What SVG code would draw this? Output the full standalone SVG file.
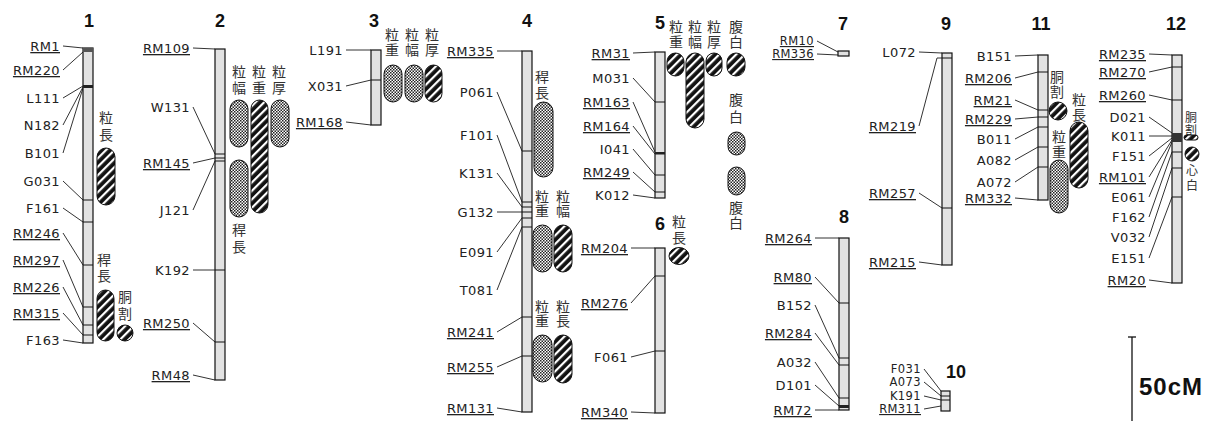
<svg xmlns="http://www.w3.org/2000/svg" width="1209" height="422" viewBox="0 0 1209 422">
<style>
.bar{fill:#e2e2e2;stroke:#111;stroke-width:1.2}
.m{stroke:#111;stroke-width:1}
.l{font-family:"DejaVu Sans",sans-serif;font-size:13px;fill:#222;text-anchor:end;letter-spacing:0.4px}
.s{font-size:11.5px}
.u{text-decoration:underline}
.n{font-family:"Liberation Sans",Arial,sans-serif;font-weight:bold;font-size:18px;text-anchor:middle;fill:#111}
.j{font-family:"Noto Sans CJK JP",sans-serif;font-size:14px;fill:#333;writing-mode:vertical-rl;dominant-baseline:central;text-anchor:start}
.js{font-size:12px}
.h{fill:url(#hatch);stroke:#111;stroke-width:1}
.d{fill:url(#dots);stroke:#111;stroke-width:1}
#connectors line,#connectors polyline{stroke:#333;stroke-width:1;fill:none}
</style>
<defs>
<pattern id="hatch" width="6" height="6" patternUnits="userSpaceOnUse" patternTransform="rotate(-45)">
<rect width="6" height="6" fill="#111"/><rect width="6" height="2.2" fill="#fff"/>
</pattern>
<pattern id="dots" width="3" height="3" patternUnits="userSpaceOnUse">
<rect width="3" height="3" fill="#fff"/><rect width="1.5" height="1.5" fill="#222"/><rect x="1.5" y="1.5" width="1.5" height="1.5" fill="#222"/>
</pattern>
</defs>
<rect width="1209" height="422" fill="#fff"/>

<g id="connectors">
<line x1="63" y1="46" x2="83" y2="48"/><line x1="63" y1="70" x2="83" y2="52"/><line x1="63" y1="98" x2="83" y2="86"/><line x1="63" y1="125" x2="83" y2="87"/><line x1="63" y1="153" x2="83" y2="88"/><line x1="63" y1="181" x2="83" y2="200"/><line x1="63" y1="208" x2="83" y2="222"/><line x1="63" y1="233" x2="83" y2="265"/><line x1="63" y1="260" x2="83" y2="307"/><line x1="63" y1="287" x2="83" y2="325"/><line x1="63" y1="313" x2="83" y2="335"/><line x1="63" y1="340" x2="83" y2="343"/>
<line x1="193" y1="48" x2="215" y2="49"/><line x1="193" y1="107" x2="215" y2="154"/><line x1="193" y1="163" x2="215" y2="158"/><line x1="193" y1="210" x2="215" y2="161"/><line x1="193" y1="270" x2="215" y2="270"/><line x1="193" y1="323" x2="215" y2="342"/><line x1="193" y1="375" x2="215" y2="380"/>
<line x1="346" y1="50" x2="371" y2="50"/><line x1="346" y1="86" x2="371" y2="80"/><line x1="346" y1="122" x2="371" y2="125"/>
<line x1="497" y1="51" x2="522" y2="51"/><line x1="497" y1="92" x2="522" y2="151"/><line x1="497" y1="135" x2="522" y2="202"/><line x1="497" y1="173" x2="522" y2="207"/><line x1="497" y1="212" x2="522" y2="212"/><line x1="497" y1="252" x2="522" y2="218"/><line x1="497" y1="290" x2="522" y2="227"/><line x1="497" y1="332" x2="522" y2="317"/><line x1="497" y1="367" x2="522" y2="356"/><line x1="497" y1="408" x2="522" y2="412"/>
<line x1="633" y1="53" x2="655" y2="52"/><line x1="633" y1="78" x2="655" y2="102"/><line x1="633" y1="102" x2="655" y2="152"/><line x1="633" y1="126" x2="655" y2="154"/><line x1="633" y1="149" x2="655" y2="175"/><line x1="633" y1="172" x2="655" y2="192"/><line x1="633" y1="195" x2="655" y2="198"/>
<line x1="631" y1="248" x2="655" y2="248"/><line x1="631" y1="303" x2="655" y2="276"/><line x1="631" y1="357" x2="655" y2="351"/><line x1="631" y1="412" x2="655" y2="413"/>
<line x1="817" y1="41" x2="838" y2="52"/><line x1="817" y1="54" x2="838" y2="55"/>
<line x1="815" y1="238" x2="839" y2="238"/><line x1="815" y1="277" x2="839" y2="303"/><line x1="815" y1="305" x2="839" y2="358"/><line x1="815" y1="333" x2="839" y2="365"/><line x1="815" y1="362" x2="839" y2="398"/><line x1="815" y1="385" x2="839" y2="406"/><line x1="815" y1="410" x2="839" y2="410"/>
<line x1="919" y1="52" x2="942" y2="53"/><polyline points="919,126 937,58 942,58"/><line x1="919" y1="193" x2="942" y2="208"/><line x1="919" y1="262" x2="942" y2="265"/>
<line x1="924" y1="369" x2="941" y2="391"/><line x1="924" y1="382" x2="941" y2="396"/><line x1="924" y1="396" x2="941" y2="400"/><line x1="924" y1="409" x2="941" y2="406"/>
<line x1="1015" y1="56" x2="1038" y2="55"/><line x1="1015" y1="78" x2="1038" y2="72"/><line x1="1015" y1="100" x2="1038" y2="110"/><line x1="1015" y1="119" x2="1038" y2="117"/><line x1="1015" y1="139" x2="1038" y2="127"/><line x1="1015" y1="160" x2="1038" y2="147"/><line x1="1015" y1="182" x2="1038" y2="167"/><line x1="1015" y1="198" x2="1038" y2="200"/>
<line x1="1149" y1="54" x2="1172" y2="55"/><line x1="1149" y1="72" x2="1172" y2="67"/><line x1="1149" y1="95" x2="1172" y2="100"/><line x1="1149" y1="117" x2="1172" y2="133"/><line x1="1149" y1="136" x2="1172" y2="136"/><line x1="1149" y1="156" x2="1172" y2="138"/><line x1="1149" y1="177" x2="1172" y2="140"/><line x1="1149" y1="197" x2="1172" y2="142"/><line x1="1149" y1="217" x2="1172" y2="152"/><line x1="1149" y1="237" x2="1172" y2="168"/><line x1="1149" y1="258" x2="1172" y2="197"/><line x1="1149" y1="280" x2="1172" y2="283"/>
</g>

<g id="chr1">
<text class="n" x="89" y="27">1</text>
<rect class="bar" x="83" y="48" width="10" height="295"/>
<rect x="83" y="48" width="10" height="4" fill="#555"/><rect x="83" y="85" width="10" height="3" fill="#222"/>
<line class="m" x1="83" x2="93" y1="200" y2="200"/><line class="m" x1="83" x2="93" y1="222" y2="222"/><line class="m" x1="83" x2="93" y1="265" y2="265"/><line class="m" x1="83" x2="93" y1="307" y2="307"/><line class="m" x1="83" x2="93" y1="325" y2="325"/><line class="m" x1="83" x2="93" y1="335" y2="335"/>
<text class="l u" x="60" y="51">RM1</text><text class="l u" x="60" y="75">RM220</text><text class="l" x="60" y="103">L111</text><text class="l" x="60" y="130">N182</text><text class="l" x="60" y="158">B101</text><text class="l" x="60" y="186">G031</text><text class="l" x="60" y="213">F161</text><text class="l u" x="60" y="238">RM246</text><text class="l u" x="60" y="265">RM297</text><text class="l u" x="60" y="292">RM226</text><text class="l u" x="60" y="318">RM315</text><text class="l" x="60" y="345">F163</text>
<text class="j" x="106" y="111" letter-spacing="3">粒長</text>
<rect class="h" x="97" y="148" width="18" height="57" rx="9"/>
<text class="j" x="104" y="253" letter-spacing="2">稈長</text>
<rect class="h" x="97" y="290" width="17" height="51" rx="8.5"/>
<text class="j" x="125" y="290" letter-spacing="3">胴割</text>
<circle class="h" cx="125" cy="333" r="8"/>
</g>

<g id="chr2">
<text class="n" x="220" y="27">2</text>
<rect class="bar" x="215" y="49" width="10" height="331"/>
<line class="m" x1="215" x2="225" y1="154" y2="154"/><line class="m" x1="215" x2="225" y1="158" y2="158"/><line class="m" x1="215" x2="225" y1="161" y2="161"/><line class="m" x1="215" x2="225" y1="270" y2="270"/><line class="m" x1="215" x2="225" y1="342" y2="342"/>
<text class="l u" x="190" y="53">RM109</text><text class="l" x="190" y="112">W131</text><text class="l u" x="190" y="168">RM145</text><text class="l" x="190" y="215">J121</text><text class="l" x="190" y="275">K192</text><text class="l u" x="190" y="328">RM250</text><text class="l u" x="190" y="380">RM48</text>
<text class="j" x="239" y="65" letter-spacing="2">粒幅</text>
<text class="j" x="259" y="65" letter-spacing="2">粒重</text>
<text class="j" x="279" y="65" letter-spacing="2">粒厚</text>
<rect class="d" x="230" y="100" width="18" height="47" rx="9"/>
<rect class="h" x="251" y="100" width="17" height="113" rx="8.5"/>
<rect class="d" x="271" y="100" width="18" height="47" rx="9"/>
<rect class="d" x="230" y="160" width="18" height="57" rx="9"/>
<text class="j" x="239" y="223" letter-spacing="3">稈長</text>
</g>

<g id="chr3">
<text class="n" x="374" y="27">3</text>
<rect class="bar" x="371" y="50" width="10" height="75"/>
<line class="m" x1="371" x2="381" y1="80" y2="80"/>
<text class="l" x="343" y="55">L191</text><text class="l" x="343" y="91">X031</text><text class="l u" x="343" y="127">RM168</text>
<text class="j" x="392" y="28" letter-spacing="1">粒重</text>
<text class="j" x="412" y="28" letter-spacing="1">粒幅</text>
<text class="j" x="432" y="28" letter-spacing="1">粒厚</text>
<rect class="d" x="384" y="65" width="18" height="37" rx="9"/>
<rect class="d" x="405" y="65" width="18" height="37" rx="9"/>
<rect class="h" x="425" y="65" width="17" height="37" rx="8.5"/>
</g>

<g id="chr4">
<text class="n" x="527" y="27">4</text>
<rect class="bar" x="522" y="51" width="10" height="361"/>
<line class="m" x1="522" x2="532" y1="151" y2="151"/><line class="m" x1="522" x2="532" y1="202" y2="202"/><line class="m" x1="522" x2="532" y1="207" y2="207"/><line class="m" x1="522" x2="532" y1="212" y2="212"/><line class="m" x1="522" x2="532" y1="218" y2="218"/><line class="m" x1="522" x2="532" y1="227" y2="227"/><line class="m" x1="522" x2="532" y1="317" y2="317"/><line class="m" x1="522" x2="532" y1="356" y2="356"/>
<text class="l u" x="494" y="56">RM335</text><text class="l" x="494" y="97">P061</text><text class="l" x="494" y="140">F101</text><text class="l" x="494" y="178">K131</text><text class="l" x="494" y="217">G132</text><text class="l" x="494" y="257">E091</text><text class="l" x="494" y="295">T081</text><text class="l u" x="494" y="337">RM241</text><text class="l u" x="494" y="372">RM255</text><text class="l u" x="494" y="413">RM131</text>
<text class="j" x="542" y="70" letter-spacing="2">稈長</text>
<rect class="d" x="534" y="102" width="19" height="75" rx="9.5"/>
<text class="j" x="542" y="190" letter-spacing="0">粒重</text>
<text class="j" x="563" y="190" letter-spacing="0">粒幅</text>
<rect class="d" x="533" y="225" width="19" height="47" rx="9.5"/>
<rect class="h" x="554" y="225" width="18" height="47" rx="9"/>
<text class="j" x="542" y="300" letter-spacing="0">粒重</text>
<text class="j" x="563" y="300" letter-spacing="0">粒長</text>
<rect class="d" x="533" y="335" width="19" height="47" rx="9.5"/>
<rect class="h" x="554" y="335" width="18" height="48" rx="9"/>
</g>

<g id="chr5">
<text class="n" x="660" y="29">5</text>
<rect class="bar" x="655" y="52" width="10" height="146"/>
<line class="m" x1="655" x2="665" y1="102" y2="102"/><rect x="655" y="152" width="10" height="2.5" fill="#222"/><line class="m" x1="655" x2="665" y1="175" y2="175"/><line class="m" x1="655" x2="665" y1="192" y2="192"/>
<text class="l u" x="630" y="58">RM31</text><text class="l" x="630" y="83">M031</text><text class="l u" x="630" y="107">RM163</text><text class="l u" x="630" y="131">RM164</text><text class="l" x="630" y="154">I041</text><text class="l u" x="630" y="177">RM249</text><text class="l" x="630" y="200">K012</text>
<text class="j" x="676" y="20" letter-spacing="1">粒重</text>
<text class="j" x="695" y="20" letter-spacing="1">粒幅</text>
<text class="j" x="714" y="20" letter-spacing="1">粒厚</text>
<text class="j" x="736" y="20" letter-spacing="1">腹白</text>
<rect class="h" x="667" y="53" width="17" height="23" rx="8.5"/>
<rect class="h" x="686" y="53" width="18" height="75" rx="9"/>
<rect class="h" x="706" y="53" width="16" height="23" rx="8"/>
<rect class="h" x="727" y="53" width="18" height="23" rx="9"/>
<text class="j" x="736" y="93" letter-spacing="3">腹白</text>
<rect class="d" x="728" y="132" width="17" height="23" rx="8.5"/>
<rect class="d" x="728" y="167" width="17" height="28" rx="8.5"/>
<text class="j" x="736" y="201" letter-spacing="1">腹白</text>
</g>

<g id="chr6">
<text class="n" x="660" y="230">6</text>
<rect class="bar" x="655" y="248" width="10" height="165"/>
<line class="m" x1="655" x2="665" y1="276" y2="276"/><line class="m" x1="655" x2="665" y1="351" y2="351"/>
<text class="l u" x="628" y="253">RM204</text><text class="l u" x="628" y="308">RM276</text><text class="l" x="628" y="362">F061</text><text class="l u" x="628" y="417">RM340</text>
<text class="j" x="679" y="215" letter-spacing="2">粒長</text>
<ellipse class="h" cx="679" cy="256" rx="10" ry="8.5"/>
</g>

<g id="chr7">
<text class="n" x="843" y="30">7</text>
<rect class="bar" x="838" y="51" width="11" height="5"/>
<text class="l s u" x="814" y="45">RM10</text><text class="l s u" x="814" y="58">RM336</text>
</g>

<g id="chr8">
<text class="n" x="844" y="223">8</text>
<rect class="bar" x="839" y="238" width="10" height="172"/>
<line class="m" x1="839" x2="849" y1="303" y2="303"/><line class="m" x1="839" x2="849" y1="358" y2="358"/><line class="m" x1="839" x2="849" y1="365" y2="365"/><line class="m" x1="839" x2="849" y1="398" y2="398"/><rect x="839" y="405" width="10" height="3" fill="#222"/>
<text class="l u" x="812" y="243">RM264</text><text class="l u" x="812" y="282">RM80</text><text class="l" x="812" y="310">B152</text><text class="l u" x="812" y="338">RM284</text><text class="l" x="812" y="367">A032</text><text class="l" x="812" y="390">D101</text><text class="l u" x="812" y="415">RM72</text>
</g>

<g id="chr9">
<text class="n" x="946" y="30">9</text>
<rect class="bar" x="942" y="53" width="10" height="212"/>
<line class="m" x1="942" x2="952" y1="58" y2="58"/><line class="m" x1="942" x2="952" y1="208" y2="208"/>
<text class="l" x="916" y="57">L072</text><text class="l u" x="916" y="131">RM219</text><text class="l u" x="916" y="198">RM257</text><text class="l u" x="916" y="267">RM215</text>
</g>

<g id="chr10">
<text class="n" x="956" y="378">10</text>
<rect class="bar" x="941" y="391" width="9" height="20"/>
<line class="m" x1="941" x2="950" y1="396" y2="396"/><line class="m" x1="941" x2="950" y1="400" y2="400"/>
<text class="l s" x="921" y="373">F031</text><text class="l s" x="921" y="386">A073</text><text class="l s" x="921" y="400">K191</text><text class="l s u" x="921" y="413">RM311</text>
</g>

<g id="chr11">
<text class="n" x="1041" y="30">11</text>
<rect class="bar" x="1038" y="55" width="10" height="145"/>
<line class="m" x1="1038" x2="1048" y1="72" y2="72"/><line class="m" x1="1038" x2="1048" y1="110" y2="110"/><line class="m" x1="1038" x2="1048" y1="117" y2="117"/><line class="m" x1="1038" x2="1048" y1="127" y2="127"/><line class="m" x1="1038" x2="1048" y1="147" y2="147"/><line class="m" x1="1038" x2="1048" y1="167" y2="167"/>
<text class="l" x="1012" y="61">B151</text><text class="l u" x="1012" y="83">RM206</text><text class="l u" x="1012" y="105">RM21</text><text class="l u" x="1012" y="124">RM229</text><text class="l" x="1012" y="144">B011</text><text class="l" x="1012" y="165">A082</text><text class="l" x="1012" y="187">A072</text><text class="l u" x="1012" y="203">RM332</text>
<text class="j" x="1057" y="70" letter-spacing="1">胴割</text>
<ellipse class="h" cx="1058" cy="111" rx="9" ry="9"/>
<text class="j" x="1079" y="93" letter-spacing="1">粒長</text>
<rect class="h" x="1070" y="122" width="18" height="66" rx="9"/>
<text class="j" x="1059" y="130" letter-spacing="1">粒重</text>
<rect class="d" x="1050" y="160" width="18" height="53" rx="9"/>
</g>

<g id="chr12">
<text class="n" x="1176" y="30">12</text>
<rect class="bar" x="1172" y="55" width="10" height="228"/>
<line class="m" x1="1172" x2="1182" y1="67" y2="67"/><line class="m" x1="1172" x2="1182" y1="100" y2="100"/><rect x="1172" y="133" width="10" height="9" fill="#333"/><line class="m" x1="1172" x2="1182" y1="152" y2="152"/><line class="m" x1="1172" x2="1182" y1="168" y2="168"/><line class="m" x1="1172" x2="1182" y1="197" y2="197"/>
<text class="l u" x="1146" y="59">RM235</text><text class="l u" x="1146" y="77">RM270</text><text class="l u" x="1146" y="100">RM260</text><text class="l" x="1146" y="122">D021</text><text class="l" x="1146" y="141">K011</text><text class="l" x="1146" y="161">F151</text><text class="l u" x="1146" y="182">RM101</text><text class="l" x="1146" y="202">E061</text><text class="l" x="1146" y="222">F162</text><text class="l" x="1146" y="242">V032</text><text class="l" x="1146" y="263">E151</text><text class="l u" x="1146" y="285">RM20</text>
<text class="j js" x="1191" y="111" letter-spacing="1">胴割</text>
<rect class="h" x="1184" y="135" width="14" height="5" rx="2.5"/>
<circle class="h" cx="1192" cy="154" r="7"/>
<text class="j js" x="1192" y="164" letter-spacing="3">心白</text>
</g>

<g id="scale">
<line x1="1132" y1="337" x2="1132" y2="421" stroke="#111" stroke-width="1.3"/>
<line x1="1128" y1="337" x2="1136" y2="337" stroke="#111" stroke-width="1.3"/>
<text x="1139" y="395" font-family="Liberation Sans,Arial,sans-serif" font-weight="bold" font-size="24" letter-spacing="1" fill="#111">50cM</text>
</g>
</svg>
